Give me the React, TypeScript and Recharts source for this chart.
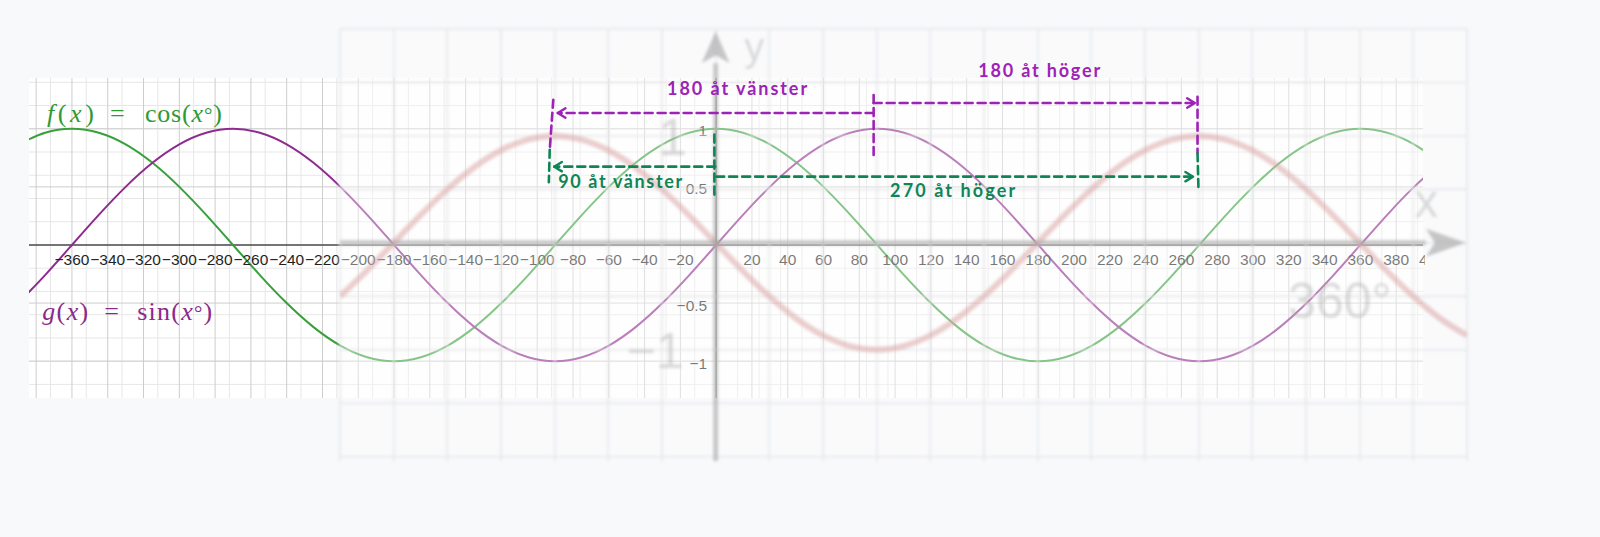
import React from 'react'
import {
  LineChart,
  Line,
  XAxis,
  YAxis,
  CartesianGrid,
  ReferenceLine,
  ReferenceDot,
} from 'recharts'

// angles in degrees, sampled every 15°
const angles = [
  -390, -375, -360, -345, -330, -315, -300, -285, -270, -255, -240, -225, -210, -195, -180, -165, -150, -135,
  -120, -105, -90, -75, -60, -45, -30, -15, 0, 15, 30, 45, 60, 75, 90, 105, 120, 135, 150, 165, 180, 195, 210,
  225, 240, 255, 270, 285, 300, 315, 330, 345, 360, 375, 390, 405,
]

// f(x) = cos(x°)
const cosValues = [
  0.866, 0.966, 1, 0.966, 0.866, 0.707, 0.5, 0.259, 0, -0.259, -0.5, -0.707, -0.866, -0.966, -1, -0.966, -0.866,
  -0.707, -0.5, -0.259, 0, 0.259, 0.5, 0.707, 0.866, 0.966, 1, 0.966, 0.866, 0.707, 0.5, 0.259, 0, -0.259, -0.5,
  -0.707, -0.866, -0.966, -1, -0.966, -0.866, -0.707, -0.5, -0.259, 0, 0.259, 0.5, 0.707, 0.866, 0.966, 1, 0.966,
  0.866, 0.707,
]

// g(x) = sin(x°)
const sinValues = [
  -0.5, -0.259, 0, 0.259, 0.5, 0.707, 0.866, 0.966, 1, 0.966, 0.866, 0.707, 0.5, 0.259, 0, -0.259, -0.5, -0.707,
  -0.866, -0.966, -1, -0.966, -0.866, -0.707, -0.5, -0.259, 0, 0.259, 0.5, 0.707, 0.866, 0.966, 1, 0.966, 0.866,
  0.707, 0.5, 0.259, 0, -0.259, -0.5, -0.707, -0.866, -0.966, -1, -0.966, -0.866, -0.707, -0.5, -0.259, 0, 0.259,
  0.5, 0.707,
]

// the faded screenshot behind: a reflected sine
const backdropAngles = [
  -210, -195, -180, -165, -150, -135, -120, -105, -90, -75, -60, -45, -30, -15, 0, 15, 30, 45, 60, 75, 90, 105, 120,
  135, 150, 165, 180, 195, 210, 225, 240, 255, 270, 285, 300, 315, 330, 345, 360, 375, 390, 405, 420,
]
const backdropValues = [
  -0.5, -0.259, 0, 0.259, 0.5, 0.707, 0.866, 0.966, 1, 0.966, 0.866, 0.707, 0.5, 0.259, 0, -0.259, -0.5, -0.707,
  -0.866, -0.966, -1, -0.966, -0.866, -0.707, -0.5, -0.259, 0, 0.259, 0.5, 0.707, 0.866, 0.966, 1, 0.966, 0.866,
  0.707, 0.5, 0.259, 0, -0.259, -0.5, -0.707, -0.866,
]

const xTickLabels = [
  -360, -340, -320, -300, -280, -260, -240, -220, -200, -180, -160, -140, -120, -100, -80, -60, -40, -20, 20, 40,
  60, 80, 100, 120, 140, 160, 180, 200, 220, 240, 260, 280, 300, 320, 340, 360, 380,
]
const yTickLabels = [1, 0.5, -0.5, -1]

const W = 1600
const H = 537

const X_DOMAIN: [number, number] = [-384, 395]
const Y_DOMAIN: [number, number] = [-1.317, 1.437]
const MARGIN = { top: 78, right: 177, bottom: 139, left: 29 }

const BG_X_DOMAIN: [number, number] = [-210, 420]
const BG_Y_DOMAIN: [number, number] = [-2.04, 2]
const BG_MARGIN = { top: 29, right: 133, bottom: 76, left: 340 }

const GREEN = '#37a03b'
const PURPLE = '#8e2b8e'
const NOTE_PURPLE = '#9d22b6'
const NOTE_GREEN = '#0f8556'

const steps = (from: number, to: number, step: number) => {
  const out: number[] = []
  for (let v = from; v <= to + 1e-9; v += step) out.push(Math.round(v * 1000) / 1000)
  return out
}

const minorX = steps(-384, 392, 4)
const majorX = steps(-380, 380, 20)
const minorY = steps(-1.3, 1.4, 0.1)
const majorY = [-1, -0.5, 0.5, 1]

const bgGridX = steps(-210, 420, 30)
const bgGridY = steps(-2, 2, 0.5)

const curveData = angles.map((x, i) => ({ x, cos: cosValues[i], sin: sinValues[i] }))
const backdropData = backdropAngles.map((x, i) => ({ x, y: backdropValues[i] }))

const minus = (v: number) => (v < 0 ? '\u2212' + Math.abs(v) : String(v))

const SANS = "'Liberation Sans', Arial, sans-serif"
const SERIF = "'Liberation Serif', 'DejaVu Serif', serif"
const NOTE_FONT = "Lato, 'Noto Sans', sans-serif"

function Formula({ cx, cy, color, fn, op, fnW, eqDx, opDx, opW }: any) {
  return (
    <g fill={color} fontFamily={SERIF} fontSize={26}>
      <text x={cx} y={cy} textLength={fnW} lengthAdjust="spacing">
        <tspan fontStyle="italic">{fn}</tspan>(<tspan fontStyle="italic">x</tspan>)
      </text>
      <text x={cx + eqDx} y={cy}>=</text>
      <text x={cx + opDx} y={cy} textLength={opW} lengthAdjust="spacing">
        {op}(<tspan fontStyle="italic">x</tspan>
        <tspan fontSize={21}>°</tspan>)
      </text>
    </g>
  )
}

function SharpGraph() {
  return (
    <LineChart width={W} height={H} data={curveData} margin={MARGIN}>
      <CartesianGrid
        fill="#ffffff"
        fillOpacity={1}
        stroke="#e7e7e7"
        verticalValues={minorX}
        horizontalValues={minorY}
      />
      <CartesianGrid stroke="#cdcdcd" verticalValues={majorX} horizontalValues={majorY} />
      <XAxis type="number" dataKey="x" domain={X_DOMAIN} allowDataOverflow hide />
      <YAxis type="number" domain={Y_DOMAIN} allowDataOverflow hide />
      <ReferenceLine y={0} stroke="#4a4a4a" strokeWidth={1.4} />
      <ReferenceLine x={0} stroke="#4a4a4a" strokeWidth={1.4} />
      {xTickLabels.map((v) => (
        <ReferenceDot
          key={'xt' + v}
          x={v}
          y={0}
          r={0}
          shape={(p: any) => (
            <text x={p.cx} y={p.cy + 20.5} textAnchor="middle" fontFamily={SANS} fontSize={15.5} fill="#1f1f1f">
              {minus(v)}
            </text>
          )}
        />
      ))}
      <ReferenceDot
        x={400}
        y={0}
        r={0}
        ifOverflow="visible"
        shape={(p: any) => (
          <text
            x={p.cx}
            y={p.cy + 20.5}
            textAnchor="middle"
            fontFamily={SANS}
            fontSize={15.5}
            fill="#1f1f1f"
            style={{ clipPath: 'inset(0 78% 0 0)' }}
          >
            400
          </text>
        )}
      />
      {yTickLabels.map((v) => (
        <ReferenceDot
          key={'yt' + v}
          x={-5}
          y={v}
          r={0}
          shape={(p: any) => (
            <text x={p.cx} y={p.cy + 7.5} textAnchor="end" fontFamily={SANS} fontSize={15.5} fill="#1f1f1f">
              {minus(v)}
            </text>
          )}
        />
      ))}
      <Line
        type="natural"
        dataKey="cos"
        stroke={GREEN}
        strokeWidth={2}
        dot={false}
        activeDot={false}
        isAnimationActive={false}
      />
      <Line
        type="natural"
        dataKey="sin"
        stroke={PURPLE}
        strokeWidth={2}
        dot={false}
        activeDot={false}
        isAnimationActive={false}
      />
      <ReferenceDot
        x={-374}
        y={1.058}
        r={0}
        shape={(p: any) => (
          <Formula cx={p.cx} cy={p.cy} color="#2f9a35" fn="f" op="cos" fnW={47} eqDx={63} opDx={98} opW={77} />
        )}
      />
      <ReferenceDot
        x={-376.6}
        y={-0.65}
        r={0}
        shape={(p: any) => (
          <Formula cx={p.cx} cy={p.cy} color="#8a2a8a" fn="g" op="sin" fnW={46} eqDx={62} opDx={95} opW={75} />
        )}
      />
    </LineChart>
  )
}

const axisArrow = (dir: 'right' | 'up') => (p: any) => {
  const { x1, y1, x2, y2 } = p
  const head =
    dir === 'right'
      ? `${x2 + 40},${y2} ${x2},${y2 - 14} ${x2 + 9},${y2} ${x2},${y2 + 14}`
      : `${x2},${y2 - 32} ${x2 - 14},${y2} ${x2},${y2 - 8} ${x2 + 14},${y2}`
  return (
    <g>
      <line x1={x1} y1={y1} x2={x2} y2={y2} stroke="#9c9c9c" strokeOpacity={0.5} strokeWidth={5} />
      <polygon points={head} fill="#a8a8a8" fillOpacity={0.65} />
    </g>
  )
}

const bigText = (label: string, size: number, anchor: string) => (p: any) => (
  <text
    x={p.cx}
    y={p.cy}
    textAnchor={anchor}
    fontFamily={SANS}
    fontSize={size}
    fill="#a9a9a9"
    fillOpacity={0.42}
  >
    {label}
  </text>
)

function BlurredBackdrop() {
  return (
    <LineChart width={W} height={H} data={backdropData} margin={BG_MARGIN}>
      <CartesianGrid
        fill="#fcfcfd"
        fillOpacity={0.4}
        stroke="#e5e6e9"
        strokeWidth={1.6}
        verticalValues={bgGridX}
        horizontalValues={bgGridY}
      />
      <XAxis type="number" dataKey="x" domain={BG_X_DOMAIN} allowDataOverflow hide />
      <YAxis type="number" domain={BG_Y_DOMAIN} allowDataOverflow hide />
      <Line
        type="natural"
        dataKey="y"
        stroke="#d9a0a0"
        strokeOpacity={0.5}
        strokeWidth={6}
        dot={false}
        activeDot={false}
        isAnimationActive={false}
      />
      <ReferenceLine
        segment={[
          { x: -210, y: 0 },
          { x: 397, y: 0 },
        ]}
        ifOverflow="visible"
        shape={axisArrow('right')}
      />
      <ReferenceLine
        segment={[
          { x: 0, y: -2.04 },
          { x: 0, y: 1.68 },
        ]}
        ifOverflow="visible"
        shape={axisArrow('up')}
      />
      <ReferenceDot x={-16} y={0.82} r={0} ifOverflow="visible" shape={bigText('1', 52, 'end')} />
      <ReferenceDot x={-18} y={-1.17} r={0} ifOverflow="visible" shape={bigText('\u22121', 50, 'end')} />
      <ReferenceDot x={320} y={-0.7} r={0} ifOverflow="visible" shape={bigText('360°', 50, 'start')} />
      <ReferenceDot x={391} y={0.24} r={0} ifOverflow="visible" shape={bigText('x', 46, 'start')} />
      <ReferenceDot x={16} y={1.7} r={0} ifOverflow="visible" shape={bigText('y', 40, 'start')} />
    </LineChart>
  )
}

// dashed guides drawn on top: [x1, y1, x2, y2, arrowhead at end]
const purpleGuides: [number, number, number, number, boolean][] = [
  [-91, 1.25, -93, 0.82, false],
  [88, 1.136, -88.5, 1.136, true],
  [88, 1.29, 88, 0.775, false],
  [88, 1.222, 267.5, 1.222, true],
  [269, 1.276, 269, 0.79, false],
]
const greenGuides: [number, number, number, number, boolean][] = [
  [-93, 0.82, -93.5, 0.54, false],
  [-0.5, 0.674, -90.5, 0.674, true],
  [-1, 0.95, -1, 0.41, false],
  [0, 0.588, 266.5, 0.588, true],
  [269, 0.79, 269.5, 0.5, false],
]

const noteTexts = [
  { text: '180 åt vänster', x: 11.7, y: 1.29, color: NOTE_PURPLE, anchor: 'middle', w: 140 },
  { text: '180 åt höger', x: 180.5, y: 1.446, color: NOTE_PURPLE, anchor: 'middle', w: 122 },
  { text: '90 åt vänster', x: -88.3, y: 0.49, color: NOTE_GREEN, anchor: 'start', w: 124 },
  { text: '270 åt höger', x: 97.2, y: 0.416, color: NOTE_GREEN, anchor: 'start', w: 125 },
]

const dashedShape = (color: string, arrow: boolean) => (p: any) => {
  const { x1, y1, x2, y2 } = p
  const ang = Math.atan2(y2 - y1, x2 - x1)
  const len = 9
  const spread = 0.55
  const a = `${x2 - len * Math.cos(ang - spread)},${y2 - len * Math.sin(ang - spread)}`
  const b = `${x2 - len * Math.cos(ang + spread)},${y2 - len * Math.sin(ang + spread)}`
  return (
    <g>
      <line
        x1={x1}
        y1={y1}
        x2={x2}
        y2={y2}
        stroke={color}
        strokeWidth={2.6}
        strokeDasharray="8 5"
        strokeLinecap="round"
      />
      {arrow && (
        <polyline
          points={`${a} ${x2},${y2} ${b}`}
          fill="none"
          stroke={color}
          strokeWidth={2.4}
          strokeLinecap="round"
          strokeLinejoin="round"
        />
      )}
    </g>
  )
}

function Annotations() {
  return (
    <LineChart width={W} height={H} data={curveData} margin={MARGIN}>
      <XAxis type="number" dataKey="x" domain={X_DOMAIN} allowDataOverflow hide />
      <YAxis type="number" domain={Y_DOMAIN} allowDataOverflow hide />
      {purpleGuides.map(([ax, ay, bx, by, arrow], i) => (
        <ReferenceLine
          key={'pg' + i}
          segment={[
            { x: ax, y: ay },
            { x: bx, y: by },
          ]}
          ifOverflow="visible"
          shape={dashedShape(NOTE_PURPLE, arrow)}
        />
      ))}
      {greenGuides.map(([ax, ay, bx, by, arrow], i) => (
        <ReferenceLine
          key={'gg' + i}
          segment={[
            { x: ax, y: ay },
            { x: bx, y: by },
          ]}
          ifOverflow="visible"
          shape={dashedShape(NOTE_GREEN, arrow)}
        />
      ))}
      {noteTexts.map((n) => (
        <ReferenceDot
          key={n.text}
          x={n.x}
          y={n.y}
          r={0}
          ifOverflow="visible"
          shape={(p: any) => (
            <text
              x={p.cx}
              y={p.cy}
              textAnchor={n.anchor}
              fontFamily={NOTE_FONT}
              fontWeight={700}
              fontSize={18}
              fill={n.color}
              textLength={n.w}
              lengthAdjust="spacing"
            >
              {n.text}
            </text>
          )}
        />
      ))}
    </LineChart>
  )
}

const layer: React.CSSProperties = { position: 'absolute', left: 0, top: 0 }

export default function App() {
  return (
    <div
      style={{
        position: 'absolute',
        left: 0,
        top: 0,
        width: W,
        height: H,
        background: '#f8f9fb',
        overflow: 'hidden',
      }}
    >
      <div style={layer}>
        <SharpGraph />
      </div>
      <div style={{ ...layer, filter: 'blur(1.6px)' }}>
        <BlurredBackdrop />
      </div>
      <div style={layer}>
        <Annotations />
      </div>
    </div>
  )
}
